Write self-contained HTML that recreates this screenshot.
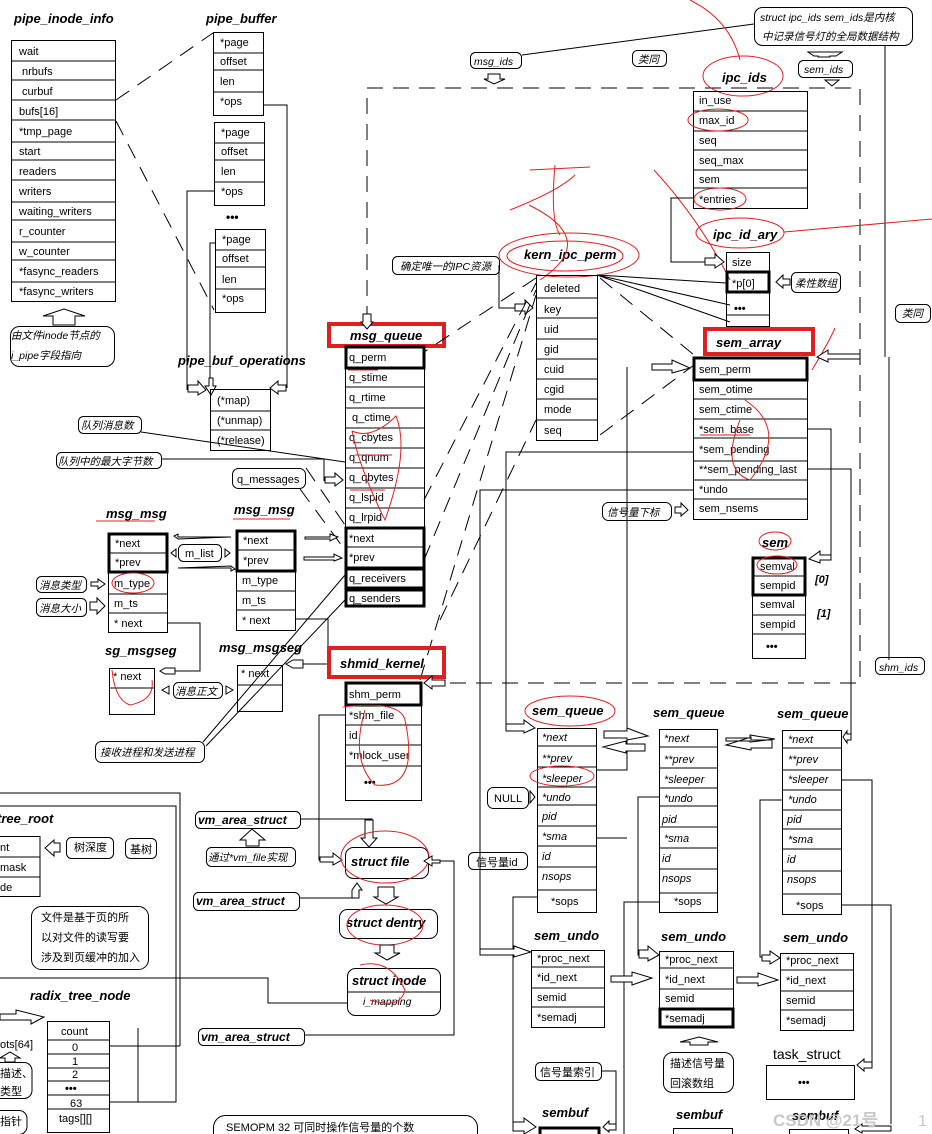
<!DOCTYPE html>
<html><head><meta charset="utf-8"><style>
html,body{margin:0;padding:0;background:#fff;}
svg{display:block}
text{font-family:"Liberation Sans","Noto Sans CJK SC",sans-serif;font-size:11px;fill:#000}
.h{font-weight:bold;font-style:italic;font-size:13px}
.i{font-style:italic}
.c{font-style:italic;font-size:10.5px}
.b{fill:none;stroke:#000;stroke-width:1}
.k{fill:none;stroke:#000;stroke-width:3}
.r{fill:none;stroke:#e02020;stroke-width:4}
.rs{fill:none;stroke:#e02020;stroke-width:1}
.l{fill:none;stroke:#000;stroke-width:1}
.d{fill:none;stroke:#000;stroke-width:1;stroke-dasharray:16 10}
.a{fill:#fff;stroke:#000;stroke-width:1}
</style></head><body>
<svg width="932" height="1134" viewBox="0 0 932 1134" xmlns="http://www.w3.org/2000/svg">

<!-- pipe_inode_info -->
<text class="h" x="14" y="23">pipe_inode_info</text>
<rect class="b" x="11.5" y="40.5" width="104" height="261"/>
<path class="l" d="M11 61H115M11 80H115M11 100H115M11 120H115M11 142H115M11 160H115M11 180H115M11 202H115M11 220H115M11 242H115M11 260H115M11 282H115"/>
<text x="19" y="55">wait</text><text x="22" y="75">nrbufs</text><text x="22" y="95">curbuf</text><text x="19" y="115">bufs[16]</text><text x="19" y="135">*tmp_page</text><text x="19" y="155">start</text><text x="19" y="175">readers</text><text x="19" y="195">writers</text><text x="19" y="215">waiting_writers</text><text x="19" y="235">r_counter</text><text x="19" y="255">w_counter</text><text x="19" y="275">*fasync_readers</text><text x="19" y="295">*fasync_writers</text>
<path class="a" d="M43 316L64 309L85 316H75V325H53V316Z"/>
<rect class="b" x="10.5" y="326.5" width="104" height="40" rx="9"/>
<text class="c" x="11" y="339">由文件inode节点的</text><text class="c" x="11" y="359">i_pipe字段指向</text>

<!-- pipe_buffer -->
<text class="h" x="206" y="23">pipe_buffer</text>
<rect class="b" x="213.5" y="32.5" width="50" height="83"/>
<path class="l" d="M213 53H263M213 70H263M213 92H263"/>
<text x="220" y="46">*page</text><text x="220" y="65">offset</text><text x="220" y="85">len</text><text x="220" y="105">*ops</text>
<rect class="b" x="214.5" y="122.5" width="50" height="83"/>
<path class="l" d="M214 143H264M214 160H264M214 182H264"/>
<text x="221" y="136">*page</text><text x="221" y="155">offset</text><text x="221" y="175">len</text><text x="221" y="195">*ops</text>
<text x="226" y="221" style="font-weight:bold;font-size:12px">•••</text>
<rect class="b" x="215.5" y="229.5" width="50" height="83"/>
<path class="l" d="M215 250H265M215 267H265M215 289H265"/>
<text x="222" y="243">*page</text><text x="222" y="262">offset</text><text x="222" y="283">len</text><text x="222" y="302">*ops</text>
<path class="d" d="M116 100L213 33M116 121L214 310"/>
<path class="l" d="M264 105H287V388M214 191H187V390M215 243H210V390"/>
<path class="a" d="M188 385H198V381L206 390L198 395V392H188Z"/>
<path class="a" d="M286 385H278V381L270 388L278 394V391H286Z"/>
<path class="a" d="M209 378V386H205L211 395L216 386H213V378Z"/>
<text class="h" x="178" y="365">pipe_buf_operations</text>
<rect class="b" x="210.5" y="389.5" width="60" height="61"/>
<path class="l" d="M210 411H270M210 430H270"/>
<text x="217" y="404">(*map)</text><text x="217" y="424">(*unmap)</text><text x="217" y="444">(*release)</text>

<!-- callouts left middle -->
<rect class="b" x="78.5" y="416.5" width="63" height="17" rx="5"/><text class="c" x="81" y="429">队列消息数</text>
<path class="l" d="M141 432L345 462"/>
<rect class="b" x="56.5" y="452.5" width="105" height="16" rx="5"/><text class="c" x="58" y="465">队列中的最大字节数</text>
<path class="l" d="M161 459H324V481"/>
<path class="a" d="M325 477H335V473L343 480L335 486V483H325Z"/>
<rect class="b" x="232.5" y="468.5" width="73" height="20" rx="6"/><text x="237" y="483">q_messages</text>
<path class="d" d="M300 489L345 550M306 468L345 525"/>

<!-- msg_queue -->
<rect class="r" x="329" y="324" width="115" height="22"/>
<text class="h" x="350" y="340">msg_queue</text>
<rect class="b" x="345.5" y="346.5" width="79" height="260"/>
<path class="l" d="M345 387H424M345 408H424M345 428H424M345 448H424M345 468H424M345 488H424M345 508H424M345 528H424"/>
<rect class="k" x="346" y="347" width="78" height="21"/>
<rect class="k" x="346" y="528" width="78" height="40"/><path class="l" d="M346 547H424"/>
<rect class="k" x="346" y="569" width="78" height="19"/>
<rect class="k" x="346" y="590" width="78" height="16"/>
<text x="349" y="361">q_perm</text><text x="349" y="381">q_stime</text><text x="349" y="401">q_rtime</text><text x="352" y="421">q_ctime</text><text x="349" y="441">q_cbytes</text><text x="349" y="461">q_qnum</text><text x="349" y="481">q_qbytes</text><text x="349" y="501">q_lspid</text><text x="349" y="521">q_lrpid</text><text x="349" y="542">*next</text><text x="349" y="561">*prev</text><text x="349" y="582">q_receivers</text><text x="349" y="602">q_senders</text>
<path class="rs" d="M348 370H378M355 455H392M352 431Q372 440 396 416Q410 450 385 520Q360 470 352 431M350 490H385"/>

<!-- big dashed frame -->
<path class="d" d="M367 322V88H860V683H425"/>
<path class="a" d="M363 314H371V322H373L367 329L361 322H363Z"/>

<!-- top callouts -->
<rect class="b" x="754.5" y="7.5" width="158" height="38" rx="8"/>
<text class="c" x="760" y="21">struct ipc_ids sem_ids是内核</text><text class="c" x="762" y="40">中记录信号灯的全局数据结构</text>
<path class="l" d="M754 24L522 55"/>
<rect class="b" x="470.5" y="52.5" width="51" height="16" rx="5"/><text class="c" x="474" y="65">msg_ids</text>
<path class="a" d="M488 74H500V79H505L494 84L484 79H488Z"/>
<rect class="b" x="632.5" y="50.5" width="34" height="16" rx="5"/><text class="c" x="638" y="63">类同</text>
<path class="a" d="M808 52H842L836 56H830V57H818V56H814Z"/>
<rect class="b" x="798.5" y="60.5" width="54" height="17" rx="5"/><text class="c" x="804" y="73">sem_ids</text>
<path class="a" d="M825 80H839L832 86Z"/>
<path class="l" d="M885 46V357M889 357V660"/>
<rect class="b" x="895.5" y="304.5" width="35" height="18" rx="5"/><text class="c" x="902" y="317">类同</text>

<!-- ipc_ids -->
<text class="h" x="722" y="82">ipc_ids</text>
<ellipse class="rs" cx="743" cy="76" rx="40" ry="20"/>
<path class="rs" d="M690 0Q730 20 740 60M654 170Q700 220 730 280"/>
<rect class="b" x="693.5" y="91.5" width="114" height="117"/>
<path class="l" d="M693 111H807M693 131H807M693 150H807M693 170H807M693 188H807"/>
<text x="699" y="104">in_use</text><text x="699" y="124">max_id</text><text x="699" y="144">seq</text><text x="699" y="164">seq_max</text><text x="699" y="183">sem</text><text x="699" y="203">*entries</text>
<ellipse class="rs" cx="718" cy="120" rx="30" ry="11"/><ellipse class="rs" cx="720" cy="199" rx="26" ry="11"/>
<path class="l" d="M693 198H671V262H705"/>
<path class="a" d="M705 258H715V254L724 262L715 268V265H705Z"/>
<text class="h" x="713" y="239">ipc_id_ary</text>
<ellipse class="rs" cx="740" cy="233" rx="44" ry="15"/><path class="rs" d="M784 232L932 219"/>
<rect class="b" x="726.5" y="252.5" width="43" height="74"/>
<rect class="k" x="727" y="272" width="42" height="20"/>
<path class="l" d="M727 315H769"/>
<text x="732" y="266">size</text><text x="732" y="287">*p[0]</text><text x="734" y="312" style="font-weight:bold">•••</text>
<path class="a" d="M790 279H783V275L776 282L783 288V285H790Z"/>
<rect class="b" x="791.5" y="272.5" width="49" height="20" rx="5"/><text class="c" x="795" y="287">柔性数组</text>

<!-- kern_ipc_perm -->
<text class="h" x="524" y="259">kern_ipc_perm</text>
<ellipse class="rs" cx="569" cy="255" rx="70" ry="22"/><ellipse class="rs" cx="565" cy="256" rx="58" ry="15"/>
<path class="rs" d="M530 170L590 167M555 165Q550 220 560 235M510 210Q560 190 575 175M529 205Q600 240 540 280"/>
<rect class="b" x="536.5" y="275.5" width="61" height="165"/>
<path class="l" d="M536 298H597M536 318H597M536 339H597M536 359H597M536 379H597M536 399H597M536 420H597"/>
<text x="544" y="292">deleted</text><text x="544" y="313">key</text><text x="544" y="333">uid</text><text x="544" y="353">gid</text><text x="544" y="373">cuid</text><text x="544" y="393">cgid</text><text x="544" y="413">mode</text><text x="544" y="434">seq</text>
<path class="l" d="M726 283L597 275M730 305L597 275M730 322L597 275"/>
<rect class="b" x="392.5" y="256.5" width="107" height="18" rx="5"/><text class="c" x="400" y="270">确定唯一的IPC资源</text>
<path class="l" d="M499 265V308H520"/>
<path class="a" d="M515 304H525V300L533 308L525 314V311H515Z"/>
<path class="d" d="M536 278L424 352M600 278L694 355M600 435L694 365M424 500L536 283M424 560L536 290M420 680L536 295M440 620L536 420"/>

<!-- sem_array -->
<rect class="r" x="705" y="329" width="108" height="25"/>
<text class="h" x="716" y="347">sem_array</text>
<rect class="b" x="693.5" y="357.5" width="114" height="162"/>
<rect class="k" x="694" y="358" width="113" height="22"/>
<path class="l" d="M693 399H807M693 419H807M693 438H807M693 461H807M693 480H807M693 499H807"/>
<text x="699" y="373">sem_perm</text><text x="699" y="393">sem_otime</text><text x="699" y="413">sem_ctime</text><text x="699" y="433">*sem_base</text><text x="699" y="453">*sem_pending</text><text x="699" y="473">**sem_pending_last</text><text x="699" y="493">*undo</text><text x="699" y="512">sem_nsems</text>
<path class="rs" d="M700 435H750M745 400Q790 430 750 480Q720 470 740 420M812 370Q830 340 835 328"/>
<path class="a" d="M860 354H828V350L817 357L828 362V359H860Z"/>
<path class="l" d="M807 429H831V559"/>
<path class="a" d="M831 555H820V551L809 559L820 563V560H831Z"/>
<path class="l" d="M807 469H851V737"/>
<path class="l" d="M693 452H506V728"/>
<path class="l" d="M693 490H480V950"/>
<path class="l" d="M627 367V770H597"/>
<path class="a" d="M652 364H672V360L690 368L672 373V370H652Z"/>
<rect class="b" x="602.5" y="502.5" width="69" height="18" rx="6"/><text class="c" x="607" y="516">信号量下标</text>
<path class="a" d="M675 507H681V503L688 510L681 516V513H675Z"/>

<!-- sem -->
<text class="h" x="762" y="547">sem</text><ellipse class="rs" cx="775" cy="541" rx="16" ry="9"/>
<rect class="b" x="752.5" y="557.5" width="53" height="101"/>
<rect class="k" x="753" y="558" width="52" height="37"/>
<path class="l" d="M753 576H805M753 615H805M753 634H805"/>
<text x="760" y="570">semval</text><text x="760" y="589">sempid</text><text x="760" y="608">semval</text><text x="760" y="628">sempid</text><text x="766" y="650" style="font-weight:bold">•••</text>
<ellipse class="rs" cx="777" cy="565" rx="20" ry="9"/>
<text class="i" x="815" y="583" style="font-weight:bold">[0]</text><text class="i" x="817" y="617" style="font-weight:bold">[1]</text>
<rect class="b" x="875.5" y="657.5" width="49" height="17" rx="5"/><text class="c" x="879" y="671">shm_ids</text>

<!-- msg_msg -->
<text class="h" x="106" y="518">msg_msg</text><path class="rs" d="M96 521H155"/>
<rect class="b" x="108.5" y="533.5" width="59" height="99"/>
<rect class="k" x="109" y="534" width="58" height="38"/><path class="l" d="M109 553H167M108 594H167M108 613H167"/>
<text x="115" y="547">*next</text><text x="115" y="566">*prev</text><text x="114" y="587">m_type</text><text x="114" y="607">m_ts</text><text x="114" y="627">* next</text>
<ellipse class="rs" cx="133" cy="583" rx="21" ry="10"/>
<text class="h" x="234" y="514">msg_msg</text><path class="rs" d="M233 519H290"/>
<rect class="b" x="236.5" y="530.5" width="59" height="100"/>
<rect class="k" x="237" y="531" width="58" height="40"/><path class="l" d="M237 550H295M236 591H295M236 610H295"/>
<text x="243" y="544">*next</text><text x="243" y="564">*prev</text><text x="242" y="584">m_type</text><text x="242" y="604">m_ts</text><text x="242" y="624">* next</text>
<path class="a" d="M231 537H178V534L174 536L178 539ZM178 568H231V571L235 569L231 566Z"/>
<path class="a" d="M305 537H330V534L338 537L330 541V539H305ZM304 557H334V554L342 558L334 561V560H304Z"/>
<rect class="b" x="178.5" y="544.5" width="43" height="17" rx="5"/><text x="185" y="557">m_list</text>
<path class="a" d="M176 549L171 553L176 557Z M225 549L230 553L225 557Z"/>
<rect class="b" x="36.5" y="576.5" width="50" height="16" rx="5"/><text class="c" x="39" y="589">消息类型</text>
<rect class="b" x="36.5" y="598.5" width="50" height="18" rx="5"/><text class="c" x="39" y="612">消息大小</text>
<path class="a" d="M91 582H98V579L105 584L98 589V586H91ZM90 602H97V598L105 606L97 614V610H90Z"/>
<path class="l" d="M167 623H200V671H175M295 619H328V663"/>
<text class="h" x="105" y="655">sg_msgseg</text>
<rect class="b" x="109.5" y="668.5" width="45" height="46"/><path class="l" d="M109 688H154"/>
<text x="113" y="680">* next</text><path class="rs" d="M112 670Q115 700 130 705Q155 700 152 680"/>
<path class="a" d="M175 668H165L160 671L165 674H175Z"/>
<text class="h" x="219" y="652">msg_msgseg</text>
<rect class="b" x="237.5" y="665.5" width="45" height="46"/><path class="l" d="M237 685H282"/>
<text x="241" y="677">* next</text>
<path class="a" d="M303 660H293L286 664L293 668H303Z"/><path class="l" d="M303 664H328"/>
<rect class="b" x="173.5" y="682.5" width="49" height="16" rx="5"/><text class="c" x="175" y="695">消息正文</text>
<path class="a" d="M169 686L162 690L169 694Z M226 686L233 690L226 694Z"/>
<rect class="b" x="95.5" y="741.5" width="109" height="21" rx="6"/><text class="c" x="100" y="756">接收进程和发送进程</text>
<path class="l" d="M203 742L345 575M206 746L345 600"/>

<!-- shmid_kernel -->
<rect class="r" x="329" y="648" width="115" height="29"/>
<text class="h" x="340" y="668">shmid_kernel</text>
<rect class="b" x="345.5" y="682.5" width="76" height="118"/>
<rect class="k" x="346" y="683" width="75" height="22"/>
<path class="l" d="M345 725H421M345 745H421M345 766H421"/>
<text x="349" y="698">shm_perm</text><text x="349" y="719">*shm_file</text><text x="349" y="739">id</text><text x="349" y="759">*mlock_user</text><text x="364" y="786" style="font-weight:bold">•••</text>
<path class="rs" d="M343 707Q400 700 405 720Q420 790 375 785Q350 760 365 710"/>
<path class="a" d="M445 680H432V676L424 683L432 689V686H445Z"/>
<path class="l" d="M345 715H319V860H330"/>
<path class="a" d="M320 857H333V853L342 860L333 865V862H320Z"/>

<!-- vm / file area -->
<rect class="b" x="195.5" y="811.5" width="105" height="17" rx="5"/><text class="h" x="198" y="824" style="font-size:12px">vm_area_struct</text>
<path class="l" d="M300 819H372V840"/>
<path class="a" d="M365 820H373V838H377L369 847L361 838H365Z"/>
<path class="a" d="M240 840L252 829L265 840H259V846H246V840Z"/>
<rect class="b" x="206.5" y="847.5" width="89" height="19" rx="5"/><text class="c" x="208" y="861">通过*vm_file实现</text>
<rect class="b" x="345.5" y="847.5" width="83" height="31" rx="8"/>
<text class="h" x="351" y="866">struct file</text><ellipse class="rs" cx="385" cy="857" rx="44" ry="26"/>
<path class="a" d="M440 860H432V856L424 861L432 866V863H440Z"/><path class="l" d="M440 861H454V1035H304"/>
<rect class="b" x="193.5" y="892.5" width="106" height="18" rx="5"/><text class="h" x="196" y="905" style="font-size:12px">vm_area_struct</text>
<path class="l" d="M299 898H356"/>
<path class="a" d="M356 898H352V890L357 883L362 890H359V898Z"/>
<path class="a" d="M378 887H394V897H398L386 904L374 897H378Z"/>
<rect class="b" x="339.5" y="909.5" width="98" height="29" rx="8"/>
<text class="h" x="346" y="927">struct dentry</text><ellipse class="rs" cx="385" cy="925" rx="38" ry="20"/>
<path class="a" d="M380 945H394V953H400L387 960L375 953H380Z"/>
<rect class="b" x="347.5" y="968.5" width="93" height="47" rx="8"/><path class="l" d="M347 992H441"/>
<text class="h" x="352" y="985">struct inode</text><text class="c" x="363" y="1005">i_mapping</text>
<path class="rs" d="M360 965Q390 958 405 990Q400 1010 370 1000"/>
<rect class="b" x="198.5" y="1028.5" width="106" height="17" rx="5"/><text class="h" x="201" y="1041" style="font-size:12px">vm_area_struct</text>
<path class="l" d="M0 978H268V1003H347"/>

<!-- radix tree -->
<path class="l" d="M0 793H180V1046M0 806H176V1102H138V1028"/>
<text class="h" x="-3" y="823">tree_root</text>
<rect class="b" x="-1" y="836.5" width="41" height="60"/>
<path class="l" d="M0 857H40M0 877H40"/>
<text x="0" y="851">nt</text><text x="0" y="871">mask</text><text x="0" y="891">de</text>
<path class="a" d="M60 843H54V840L45 848L54 856V852H60Z"/>
<rect class="b" x="66.5" y="837.5" width="47" height="21" rx="5"/><text x="74" y="851">树深度</text>
<rect class="b" x="125.5" y="838.5" width="31" height="20" rx="5"/><text x="130" y="853">基树</text>
<rect class="b" x="31.5" y="906.5" width="117" height="63" rx="10"/>
<text x="41" y="921">文件是基于页的所</text><text x="41" y="941">以对文件的读写要</text><text x="41" y="961">涉及到页缓冲的加入</text>
<text class="h" x="30" y="1000">radix_tree_node</text>
<path class="a" d="M0 1014H16V1010L44 1017L31 1024V1020H0Z"/>
<rect class="b" x="47.5" y="1021.5" width="62" height="111"/>
<path class="l" d="M47 1040H109M47 1054H109M47 1068H109M47 1081H109M47 1095H109M47 1109H109M109 1046H180M109 1102H176"/>
<text x="61" y="1035">count</text><text x="72" y="1051">0</text><text x="72" y="1065">1</text><text x="72" y="1078">2</text><text x="65" y="1092" style="font-weight:bold">•••</text><text x="70" y="1107">63</text><text x="59" y="1122">tags[][]</text>
<text x="0" y="1048">ots[64]</text>
<path class="a" d="M0 1058L10 1052L20 1058H15V1062H5V1058Z"/>
<rect class="b" x="-10" y="1062.5" width="42" height="36" rx="8"/><text x="0" y="1077">描述、</text><text x="0" y="1095">类型</text>
<rect class="b" x="-10" y="1110.5" width="37" height="24" rx="8"/><text x="0" y="1125">指针</text>
<rect class="b" x="213.5" y="1115.5" width="264" height="30" rx="12"/><text x="226" y="1131">SEMOPM  32  可同时操作信号量的个数</text>

<!-- sem_queue 1 -->
<text class="h" x="532" y="715">sem_queue</text><ellipse class="rs" cx="570" cy="711" rx="45" ry="15"/>
<rect class="b" x="537.5" y="728.5" width="59" height="184"/>
<path class="l" d="M537 746H596M537 767H596M537 787H596M537 805H596M537 826H596M537 846H596M537 867H596M537 890H596"/>
<g class="i"><text x="542" y="741">*next</text><text x="542" y="762">**prev</text><text x="542" y="782">*sleeper</text><text x="542" y="801">*undo</text><text x="542" y="820">pid</text><text x="542" y="840">*sma</text><text x="542" y="860">id</text><text x="542" y="880">nsops</text></g><text x="551" y="905">*sops</text>
<ellipse class="rs" cx="562" cy="776" rx="32" ry="10"/>
<path class="a" d="M506 724H524V720L535 728L524 733V731H506Z"/>
<!-- sem_queue 2 -->
<text class="h" x="653" y="717">sem_queue</text>
<rect class="b" x="659.5" y="729.5" width="58" height="183"/>
<path class="l" d="M659 747H717M659 768H717M659 788H717M659 806H717M659 827H717M659 848H717M659 869H717M659 893H717"/>
<g class="i"><text x="664" y="742">*next</text><text x="664" y="763">**prev</text><text x="664" y="783">*sleeper</text><text x="664" y="802">*undo</text><text x="662" y="823">pid</text><text x="664" y="842">*sma</text><text x="662" y="862">id</text><text x="662" y="882">nsops</text></g><text x="674" y="905">*sops</text>
<!-- sem_queue 3 -->
<text class="h" x="777" y="718">sem_queue</text>
<rect class="b" x="782.5" y="730.5" width="59" height="184"/>
<path class="l" d="M782 748H841M782 770H841M782 790H841M782 810H841M782 829H841M782 849H841M782 871H841M782 894H841"/>
<g class="i"><text x="788" y="743">*next</text><text x="788" y="763">**prev</text><text x="788" y="783">*sleeper</text><text x="788" y="803">*undo</text><text x="787" y="823">pid</text><text x="788" y="843">*sma</text><text x="787" y="863">id</text><text x="787" y="883">nsops</text></g><text x="796" y="909">*sops</text>
<path class="a" d="M851 734H847V731L843 737L847 743V740H851Z"/>
<!-- queue arrows -->
<path class="a" d="M604 731H627V728L648 736L627 740V738H604ZM645 744H626V741L603 747L626 753V751H645ZM726 738H750V735L775 739L750 742V741H726ZM772 740H751V737L726 745L751 750V748H772Z"/>
<rect class="b" x="487.5" y="787.5" width="41" height="21" rx="6"/><text x="494" y="802">NULL</text>
<path class="a" d="M530 791L535 797L530 803Z"/>
<path class="l" d="M596 838H627M659 797H638V955H650M782 800H760V957H773M841 780H872V1065M841 905H891V1124"/>
<rect class="b" x="468.5" y="852.5" width="59" height="17" rx="5"/><text x="476" y="866">信号量id</text>
<path class="l" d="M537 897H513V1125M659 902H624V1134"/>
<path class="a" d="M480 949H514V946L531 952L514 957V955H480Z"/>
<path class="a" d="M639 950H648V946L659 955L648 961V958H639ZM762 955H770V951L780 958L770 964V961H762Z"/>

<!-- sem_undo -->
<text class="h" x="534" y="940">sem_undo</text>
<rect class="b" x="531.5" y="950.5" width="73" height="77"/>
<path class="l" d="M531 967H604M531 988H604M531 1007H604"/>
<text x="537" y="962">*proc_next</text><text x="537" y="981">*id_next</text><text x="537" y="1001">semid</text><text x="537" y="1021">*semadj</text>
<text class="h" x="661" y="941">sem_undo</text>
<rect class="b" x="659.5" y="951.5" width="74" height="57"/>
<path class="l" d="M659 968H733M659 989H733"/>
<rect class="k" x="660" y="1009" width="73" height="18"/>
<text x="665" y="963">*proc_next</text><text x="665" y="983">*id_next</text><text x="665" y="1002">semid</text><text x="665" y="1022">*semadj</text>
<text class="h" x="783" y="942">sem_undo</text>
<rect class="b" x="780.5" y="953.5" width="73" height="77"/>
<path class="l" d="M780 970H853M780 991H853M780 1010H853"/>
<text x="786" y="964">*proc_next</text><text x="786" y="984">*id_next</text><text x="786" y="1004">semid</text><text x="786" y="1024">*semadj</text>
<path class="a" d="M611 976H632V972L652 978L632 985V982H611ZM737 977H758V973L778 980L758 986V983H737Z"/>
<path class="a" d="M680 1042L699 1037L718 1042H708V1045H690V1042Z"/>
<rect class="b" x="663.5" y="1052.5" width="70" height="40" rx="9"/><text x="670" y="1067">描述信号量</text><text x="670" y="1087">回滚数组</text>
<text x="773" y="1059" style="font-size:14px">task_struct</text>
<rect class="b" x="766.5" y="1065.5" width="88" height="34"/><text x="798" y="1086" style="font-weight:bold">•••</text>
<path class="a" d="M872 1062H864V1059L857 1065L864 1071V1068H872Z"/>
<rect class="b" x="535.5" y="1062.5" width="66" height="18" rx="5"/><text x="540" y="1076">信号量索引</text>
<path class="l" d="M601 1071H616V1128"/>
<path class="a" d="M616 1124H609V1121L603 1127L609 1132V1130H616Z"/>
<path class="a" d="M513 1122H524V1118L536 1127L524 1134V1131H513Z"/>
<text class="h" x="542" y="1117">sembuf</text>
<rect class="k" x="540" y="1128" width="59" height="10"/>
<text class="h" x="676" y="1119">sembuf</text>
<rect class="b" x="673.5" y="1128.5" width="59" height="10"/>
<text class="h" x="792" y="1120">sembuf</text>
<rect class="b" x="789.5" y="1129.5" width="59" height="10"/>
<path class="a" d="M891 1126H862V1124L855 1129L862 1133V1131H891Z"/>
<text x="773" y="1126" style="font-size:17px;fill:#c8c8c8;font-weight:bold">CSDN @21号</text>
<text x="918" y="1126" style="font-size:16px;fill:#c8c8c8">1</text>
</svg>
</body></html>
